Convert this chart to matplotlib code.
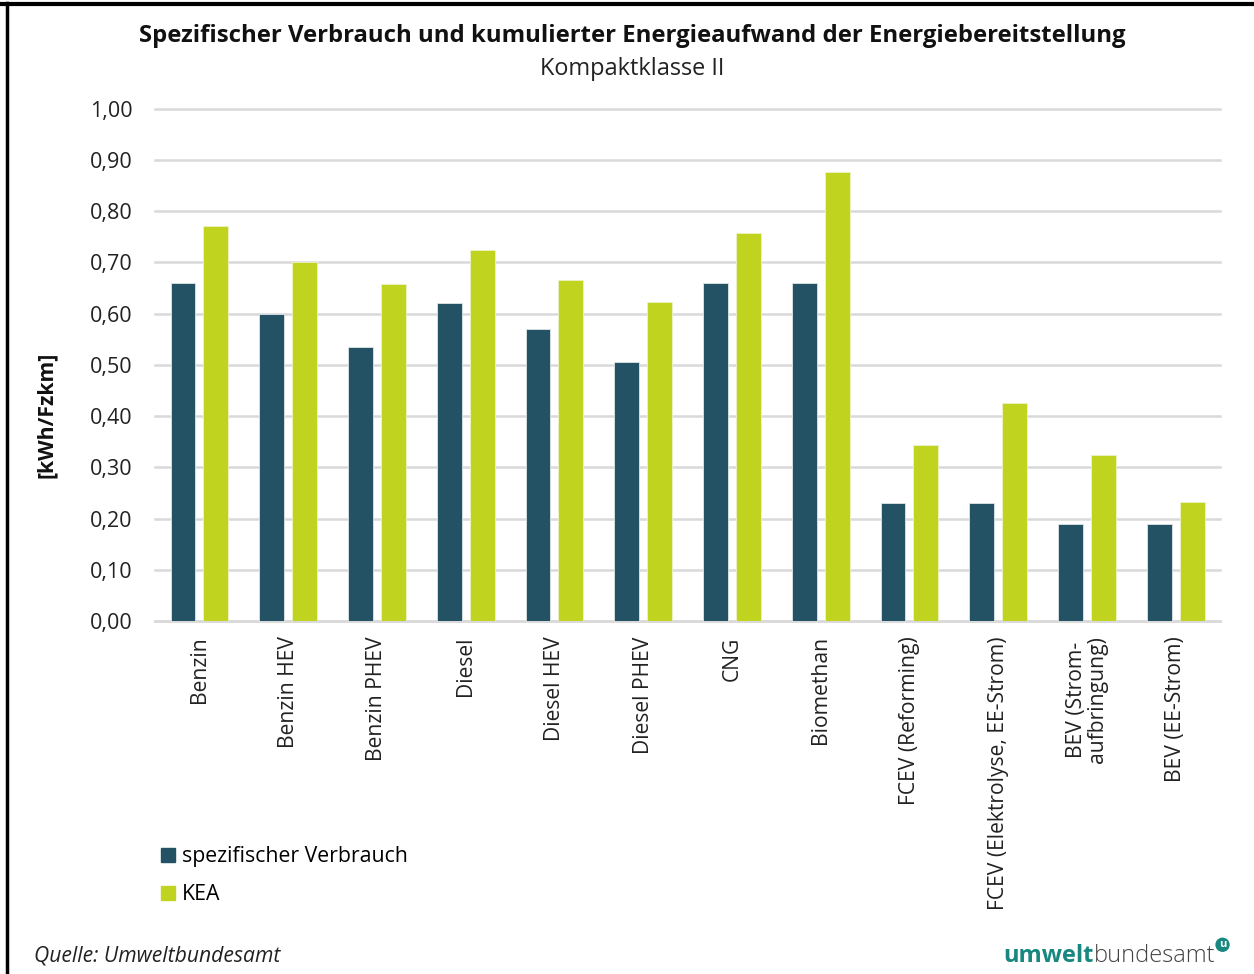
import matplotlib.pyplot as plt
import numpy as np
from matplotlib.patches import Patch
from matplotlib.lines import Line2D

plt.rcParams['font.family'] = ['Open Sans', 'DejaVu Sans']

kategorien = ['Benzin', 'Benzin HEV', 'Benzin PHEV', 'Diesel', 'Diesel HEV',
              'Diesel PHEV', 'CNG', 'Biomethan', 'FCEV (Reforming)',
              'FCEV (Elektrolyse, EE-Strom)', 'BEV (Strom-\naufbringung)',
              'BEV (EE-Strom)']
verbrauch = [0.66, 0.60, 0.535, 0.62, 0.57, 0.505, 0.66, 0.66, 0.23, 0.23, 0.19, 0.19]
kea = [0.77, 0.70, 0.657, 0.723, 0.665, 0.623, 0.757, 0.876, 0.344, 0.426, 0.324, 0.233]
yticks = [0.0, 0.1, 0.2, 0.3, 0.4, 0.5, 0.6, 0.7, 0.8, 0.9, 1.0]

dunkel = '#235264'
gruen = '#bfd31f'

fig = plt.figure(figsize=(12.54, 9.74), dpi=100)
ax = fig.add_axes([0.1236, 0.3624, 0.8494, 0.5262])

x = np.arange(len(kategorien))
b = 0.28
ax.bar(x - 0.185, verbrauch, b, color=dunkel, edgecolor='#dfe6ea', linewidth=0.6, zorder=3)
ax.bar(x + 0.185, kea, b, color=gruen, edgecolor='#eef3c8', linewidth=0.6, zorder=3)

ax.set_xlim(-0.5, len(kategorien) - 0.5)
ax.set_ylim(0, 1.0)
ax.set_yticks(yticks)
ax.set_yticklabels([f'{v:.2f}'.replace('.', ',') for v in yticks], fontsize=15.5, color='#222222')
ax.yaxis.grid(True, color='#d9d9d9', linewidth=1.8, zorder=0)
ax.set_axisbelow(True)
for gl in ax.get_ygridlines():
    gl.set_clip_on(False)
for s in ['top', 'right', 'left']:
    ax.spines[s].set_visible(False)
ax.spines['bottom'].set_color('#d9d9d9')
ax.spines['bottom'].set_linewidth(1.8)
ax.tick_params(axis='y', length=0, pad=16)
ax.tick_params(axis='x', length=0, pad=11)
ax.set_xticks(x)
ax.set_xticklabels(kategorien, rotation=90, fontsize=15.2, va='top', ha='center',
                   color='#222222', linespacing=1.05)
fig.text(0.037, 1 - 415 / 974, '[kWh/Fzkm]', rotation=90, ha='center', va='center',
         fontsize=15.3, fontweight='bold', color='#111111')

fig.text(0.504, 0.9635, 'Spezifischer Verbrauch und kumulierter Energieaufwand der Energiebereitstellung',
         ha='center', va='center', fontsize=17.2, fontweight='bold', color='#111111')
fig.text(0.504, 0.929, 'Kompaktklasse II', ha='center', va='center', fontsize=16.9, color='#222222')

handles = [Patch(color=dunkel), Patch(color=gruen)]
fig.legend(handles, ['spezifischer Verbrauch', 'KEA'], loc='upper left',
           bbox_to_anchor=(0.122, 0.14), frameon=False, fontsize=15.3,
           handlelength=0.65, handleheight=0.65, handletextpad=0.3, labelspacing=0.8,
           borderaxespad=0)

fig.text(0.027, 0.018, 'Quelle: Umweltbundesamt', ha='left', va='center',
         fontsize=15.2, style='italic', color='#222222')

t1 = fig.text(0.8, 0.018, 'umwelt', ha='left', va='center', fontsize=17,
              fontweight='bold', color='#17877f')
fig.canvas.draw()
bb = t1.get_window_extent().transformed(fig.transFigure.inverted())
t2 = fig.text(bb.x1, 0.018, 'bundesamt', ha='left', va='center', fontsize=17,
              fontweight='light', color='#444444')
fig.canvas.draw()
bb2 = t2.get_window_extent().transformed(fig.transFigure.inverted())
fig.text(bb2.x1 + 0.003, 0.03, 'u', ha='left', va='center', fontsize=8, fontweight='bold',
         color='white', bbox=dict(boxstyle='circle,pad=0.15', fc='#17877f', ec='none'))

# Rahmen oben und links
fig.add_artist(Line2D([0.0, 1.0], [0.9955, 0.9955], transform=fig.transFigure, color='black', linewidth=3))
fig.add_artist(Line2D([0.0056, 0.0056], [0.0, 0.997], transform=fig.transFigure, color='black', linewidth=2.5))

fig.savefig('out.png', dpi=100)
